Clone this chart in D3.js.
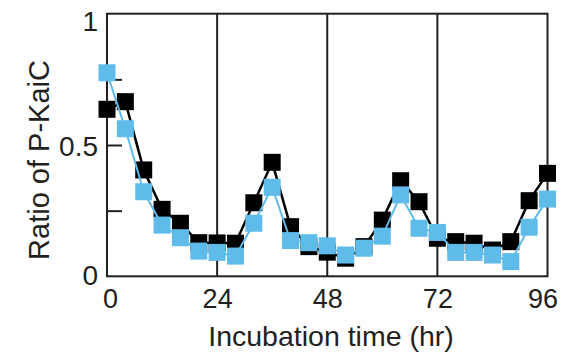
<!DOCTYPE html>
<html>
  <style>
    body { margin: 0; background: #fff; }
    text { font-family: "Liberation Sans", Arial, Helvetica, sans-serif; fill: #231f20; }
  </style>
  <body>
    <div id="chart"></div>
  </body>
  <script src="https://d3js.org/d3.v7.min.js"></script>
  <script>
    // Incubation time (hr)
    const TIMES = [0, 4, 8, 12, 16, 20, 24, 28, 32, 36, 40, 44, 48, 52, 56, 60, 64, 68, 72, 76, 80, 84, 88, 92, 96];
    // Ratio of P-KaiC, black series
    const BLACK_VALUES = [0.636, 0.665, 0.405, 0.255, 0.202, 0.128, 0.127, 0.126, 0.28, 0.434, 0.189, 0.113, 0.092,
                          0.069, 0.113, 0.214, 0.364, 0.284, 0.145, 0.132, 0.126, 0.10, 0.132, 0.288, 0.392];
    // Ratio of P-KaiC, blue series
    const BLUE_VALUES = [0.775, 0.562, 0.322, 0.195, 0.147, 0.096, 0.091, 0.077, 0.202, 0.339, 0.136, 0.128, 0.116,
                         0.081, 0.107, 0.153, 0.31, 0.183, 0.167, 0.091, 0.091, 0.081, 0.056, 0.187, 0.294];
    const X_TICKS = [0, 24, 48, 72, 96];
    const Y_TICKS = [0, 0.5, 1];
    const Y_MINOR = [0.25, 0.5, 0.75];

    var WIDTH = 561, HEIGHT = 356;
    var LEFT = 107, RIGHT = 547.5, TOP = 13.7, BOTTOM = 276.3;
    var INK = "#231f20";
    var BLUE = "#5ebbea";
    var MARK = 17;

    var x = d3.scaleLinear().domain([0, 96]).range([LEFT, RIGHT]);
    var y = d3.scaleLinear().domain([0, 1]).range([BOTTOM, TOP]);

    var svg = d3.select("#chart").append("svg")
      .attr("width", WIDTH)
      .attr("height", HEIGHT);

    // vertical day lines
    svg.selectAll(".vline")
      .data(X_TICKS.slice(1, -1))
      .enter().append("line")
      .attr("x1", d => x(d)).attr("x2", d => x(d))
      .attr("y1", TOP).attr("y2", BOTTOM)
      .style("stroke", INK).style("stroke-width", 2);

    // inner y ticks
    svg.append("g")
      .attr("transform", "translate(" + LEFT + ",0)")
      .call(d3.axisRight(y).tickValues(Y_MINOR).tickSize(15).tickFormat(""))
      .call(g => g.select(".domain").remove())
      .call(g => g.selectAll("line").style("stroke", INK).style("stroke-width", 2));

    // y tick labels
    var yAxis = svg.append("g")
      .attr("transform", "translate(" + LEFT + ",0)")
      .call(d3.axisLeft(y).tickValues(Y_TICKS).tickSize(0).tickPadding(9).tickFormat(d => d === 0.5 ? "0.5" : d3.format("d")(d)));
    yAxis.select(".domain").remove();
    yAxis.selectAll("text")
      .style("font-size", "28px")
      .style("font-family", null)
      .attr("dy", d => d === 1 ? "0.6em" : (d === 0 ? "0.28em" : "0.36em"));

    // x tick labels
    var xAxis = svg.append("g")
      .attr("transform", "translate(0," + BOTTOM + ")")
      .call(d3.axisBottom(x).tickValues(X_TICKS).tickSize(0).tickPadding(13));
    xAxis.select(".domain").remove();
    xAxis.selectAll("text")
      .style("font-size", "27px")
      .style("font-family", null)
      .attr("dx", d => d === 96 ? -5 : (d === 0 ? 3 : 0));

    // frame
    svg.append("rect")
      .attr("x", LEFT).attr("y", TOP)
      .attr("width", RIGHT - LEFT).attr("height", BOTTOM - TOP)
      .style("fill", "none").style("stroke", INK).style("stroke-width", 2);

    // axis titles
    svg.append("text")
      .attr("x", 331).attr("y", 346)
      .attr("text-anchor", "middle")
      .style("font-size", "28.5px")
      .text("Incubation time (hr)");

    svg.append("text")
      .attr("transform", "translate(49,160) rotate(-90)")
      .attr("text-anchor", "middle")
      .style("font-size", "29px")
      .text("Ratio of P-KaiC");

    // series
    function drawSeries(values, color, width) {
      var pts = TIMES.map((t, i) => [t, values[i]]);
      svg.append("path")
        .datum(pts)
        .attr("d", d3.line().x(d => x(d[0])).y(d => y(d[1])))
        .style("fill", "none").style("stroke", color).style("stroke-width", width);
      svg.append("g").selectAll("rect")
        .data(pts)
        .enter().append("rect")
        .attr("x", d => x(d[0]) - MARK / 2)
        .attr("y", d => y(d[1]) - MARK / 2)
        .attr("width", MARK).attr("height", MARK)
        .style("fill", color);
    }
    drawSeries(BLACK_VALUES, "#000", 2.5);
    drawSeries(BLUE_VALUES, BLUE, 2);
  </script>
</html>
